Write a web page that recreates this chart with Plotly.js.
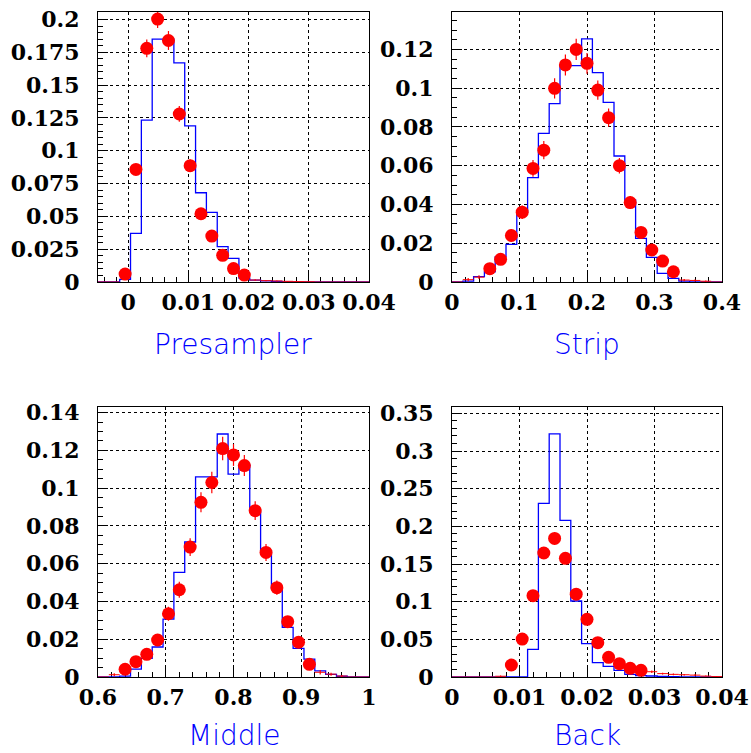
<!DOCTYPE html>
<html>
<head>
<meta charset="utf-8">
<script src="https://cdn.plot.ly/plotly-3.0.1.min.js"></script>
<style>
html,body{margin:0;padding:0;background:#fff;}
#chart{width:751px;height:753px;}
</style>
</head>
<body>
<div id="chart"></div>
<script>
// ---- Data (25 bins per histogram) ----
const NBINS = 25;
const panelNames = ["Presampler", "Strip", "Middle", "Back"];
const histRanges = [[-0.005, 0.04], [0, 0.4], [0.6, 1.0], [0, 0.04]];

// Presampler
const presBlue = [0,0,0.002,0.037,0.1234,0.185,0.185,0.167,0.119,0.068,0.053,0.027,0.018,0.003,0.0015,0.0008,0.0004,0,0,0,0,0,0,0,0];
const presRed  = [0,0,0.006,0.0858,0.178,0.2003,0.184,0.128,0.0886,0.052,0.035,0.0203,0.0102,0.0053,0.0015,0.001,0.0008,0.0005,0.0003,0.0002,0,0,0,0,0];
const presErr  = [0,0,0.001,0.004,0.0068,0.0068,0.0072,0.006,0.0048,0.0036,0.003,0.0022,0.0016,0.0012,0.0006,0.0005,0.0004,0.0003,0.0002,0.0002,0,0,0,0,0];
const presMarked = [2, 13];

// Strip
const stripBlue = [0,0.0005,0.0028,0.0053,0.013,0.0194,0.036,0.0538,0.0767,0.092,0.1116,0.1116,0.1254,0.108,0.0927,0.065,0.0423,0.0225,0.0127,0.0045,0.0019,0.0005,0,0,0];
const stripRed  = [0,0.0012,0.0025,0.0069,0.0117,0.024,0.036,0.0586,0.068,0.0999,0.112,0.120,0.1128,0.099,0.0848,0.060,0.041,0.0256,0.0165,0.0108,0.0053,0.001,0.0008,0.0004,0];
const stripErr  = [0,0.0008,0.001,0.0018,0.0022,0.003,0.0035,0.0043,0.0047,0.0052,0.0054,0.0055,0.0054,0.005,0.0047,0.004,0.0034,0.0027,0.0022,0.0018,0.0013,0.0006,0.0005,0.0004,0];
const stripMarked = [3, 20];

// Middle
const middleBlue = [0,0,0.0005,0.0042,0.0099,0.0159,0.0307,0.0554,0.0715,0.106,0.106,0.1287,0.1075,0.1123,0.0875,0.0669,0.047,0.0263,0.0152,0.0095,0.0032,0.0014,0.0004,0,0];
const middleRed  = [0,0.0012,0.0041,0.0081,0.012,0.0196,0.0335,0.0462,0.0688,0.0925,0.103,0.121,0.1176,0.112,0.0881,0.066,0.0473,0.0293,0.0184,0.0067,0.0025,0.0015,0.0005,0,0];
const middleErr  = [0,0.0008,0.0015,0.002,0.0025,0.003,0.0037,0.0042,0.0047,0.0053,0.0057,0.0062,0.0058,0.0056,0.005,0.0045,0.0038,0.003,0.0024,0.0016,0.0012,0.0008,0.0005,0,0];
const middleMarked = [2, 19];

// Back
const backBlue = [0,0,0,0,0,0,0,0.0367,0.2305,0.3226,0.208,0.1009,0.0442,0.019,0.0142,0.0088,0.0035,0.0018,0.0013,0.0008,0.0005,0,0,0,0];
const backRed  = [0,0,0,0,0.001,0.0159,0.0504,0.108,0.1646,0.184,0.1575,0.110,0.0765,0.0456,0.0261,0.0177,0.0115,0.0088,0.007,0.0045,0.0035,0.003,0.0025,0.0012,0.0005];
const backErr  = [0,0,0,0,0.001,0.003,0.0045,0.0062,0.0075,0.008,0.0075,0.0063,0.0052,0.004,0.003,0.0025,0.002,0.0018,0.0016,0.0013,0.0012,0.0011,0.001,0.0007,0.0005];
const backMarked = [5, 17];

// Axis ticks
const yMax   = [0.2057, 0.1393, 0.143, 0.3584];
const yDtick = [0.025, 0.02, 0.02, 0.05];
const yMinor = [0.005, 0.005, 0.005, 0.01];
const xDtick = [0.01, 0.1, 0.1, 0.01];
const xMinor = [0.002, 0.02, 0.02, 0.002];

const blues = [presBlue, stripBlue, middleBlue, backBlue];
const reds  = [presRed, stripRed, middleRed, backRed];
const errs  = [presErr, stripErr, middleErr, backErr];
const marks = [presMarked, stripMarked, middleMarked, backMarked];

// ---- Layout geometry (pixels) ----
const W = 751, H = 753;
const boxes = [
  {x0: 98, x1: 369, y0: 12, y1: 282},
  {x0: 452, x1: 722, y0: 12, y1: 282},
  {x0: 98, x1: 369, y0: 407, y1: 677},
  {x0: 452, x1: 722, y0: 407, y1: 677}
];
// [x centre, y bottom of text box]
const titlePos = [[232.5, 362], [587, 362], [234, 753], [587, 753]];

const traces = [];
const layout = {
  width: W, height: H,
  margin: {l: 0, r: 0, t: 0, b: 0},
  paper_bgcolor: '#fff', plot_bgcolor: '#fff',
  showlegend: false,
  annotations: []
};

const tickFont = {family: 'DejaVu Serif, Liberation Serif, serif', size: 22, weight: 'bold', color: '#000'};

function axisBase(domain, range, dtick, minor, anchor, standoff) {
  return {
    domain: domain, range: range, dtick: dtick, tick0: 0,
    ticks: 'inside', ticklen: 10, tickwidth: 1, tickcolor: '#000',
    minor: {dtick: minor, tick0: 0, ticks: 'inside', ticklen: 5, tickwidth: 1, tickcolor: '#000', showgrid: false},
    showgrid: true, gridcolor: '#000', griddash: 'dot', gridwidth: 1,
    showline: true, mirror: true, linecolor: '#000', linewidth: 1,
    zeroline: false, anchor: anchor, tickfont: tickFont,
    ticklabelstandoff: standoff,
    layer: 'below traces', fixedrange: true
  };
}

for (let p = 0; p < 4; p++) {
  const [lo, hi] = histRanges[p];
  const w = (hi - lo) / NBINS;
  const edges = [], stepY = [], centers = [], sizes = [];
  for (let k = 0; k <= NBINS; k++) {
    edges.push(lo + k * w);
    stepY.push(blues[p][Math.min(k, NBINS - 1)]);
  }
  for (let k = 0; k < NBINS; k++) {
    centers.push(lo + (k + 0.5) * w);
    sizes.push(k >= marks[p][0] && k <= marks[p][1] ? 13 : 0);
  }
  const sfx = p === 0 ? '' : String(p + 1);
  traces.push({
    type: 'scatter', mode: 'lines', x: edges, y: stepY,
    line: {shape: 'hv', color: '#0000ff', width: 1.3},
    xaxis: 'x' + sfx, yaxis: 'y' + sfx, hoverinfo: 'skip', cliponaxis: false
  });
  traces.push({
    type: 'scatter', mode: 'markers', x: centers, y: reds[p],
    marker: {color: '#ff0000', size: sizes, opacity: 1, line: {width: 0}},
    error_x: {type: 'constant', value: w / 2, color: '#ff0000', thickness: 1, width: 0},
    error_y: {type: 'data', array: errs[p], color: '#ff0000', thickness: 1.2, width: 0},
    xaxis: 'x' + sfx, yaxis: 'y' + sfx, hoverinfo: 'skip', cliponaxis: false
  });
  const b = boxes[p];
  layout['xaxis' + sfx] = axisBase([b.x0 / W, b.x1 / W], [lo, hi], xDtick[p], xMinor[p], 'y' + sfx, 1);
  layout['yaxis' + sfx] = axisBase([1 - b.y1 / H, 1 - b.y0 / H], [0, yMax[p]], yDtick[p], yMinor[p], 'x' + sfx, 13);
  layout.annotations.push({
    text: panelNames[p], xref: 'paper', yref: 'paper',
    x: titlePos[p][0] / W, y: 1 - titlePos[p][1] / H,
    xanchor: 'center', yanchor: 'bottom', showarrow: false, borderpad: 0,
    font: {family: 'DejaVu Sans, sans-serif', size: 28, weight: 200, color: '#0000ff'}
  });
}

Plotly.newPlot('chart', traces, layout, {displayModeBar: false, staticPlot: true});
</script>
</body>
</html>
